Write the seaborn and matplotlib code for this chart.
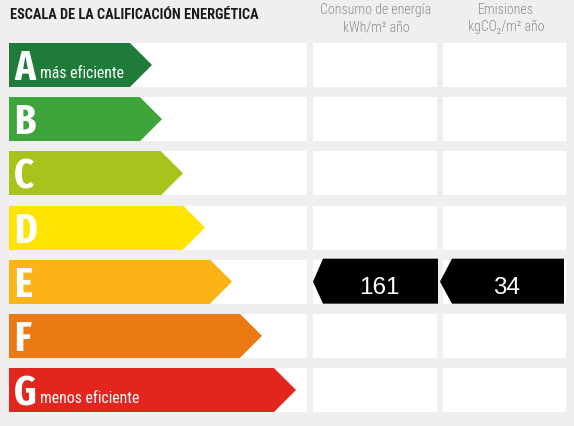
import numpy as np
import matplotlib
matplotlib.use('Agg')
import matplotlib.pyplot as plt
import seaborn as sns
from matplotlib.patches import Rectangle, Polygon

# Energy rating scale
letters = ['A', 'B', 'C', 'D', 'E', 'F', 'G']
subtitles = ['más eficiente', '', '', '', '', '', 'menos eficiente']
colors = ['#1f7b39', '#3ea53a', '#a8c41c', '#ffe400', '#fbb316', '#ec7a12', '#e2261d']
arrow_tip = [152, 162, 183, 205, 232, 262, 296]   # where each arrow ends (px)

# Result for this building
rating = 'E'
consumo = 161     # kWh/m2 year
emisiones = 34    # kgCO2/m2 year

title = 'ESCALA DE LA CALIFICACIÓN ENERGÉTICA'
col_headers = [('Consumo de energía', 'kWh/m² año'), ('Emisiones', 'kgCO₂/m² año')]

sns.set_theme(style='white')
cond = ['Roboto Condensed', 'DejaVu Sans']
plt.rcParams['font.family'] = cond
big_font = ['Fira Sans Extra Condensed', 'Roboto Condensed', 'DejaVu Sans']

W, H = 574, 426
fig = plt.figure(figsize=(W / 100, H / 100), dpi=100)
fig.patch.set_facecolor('#f0eeef')
ax = fig.add_axes([0, 0, 1, 1])
ax.set_facecolor('#f0eeef')

left = 9
top0 = 43
pitch = 54.17
row_h = 44
tip_len = 22
centers = [top0 + row_h / 2 + i * pitch for i in range(len(letters))]

# white rows / cells
cells = [(left, 307), (313, 437), (443, 566)]
for c in centers:
    for x0, x1 in cells:
        ax.add_patch(Rectangle((x0, c - row_h / 2), x1 - x0, row_h, fc='white', ec='none', zorder=0))

# arrow bodies with seaborn
body = [t - tip_len - left for t in arrow_tip]
sns.barplot(x=body, y=centers, hue=letters, palette=colors, orient='y', native_scale=True,
            width=row_h / pitch, dodge=False, saturation=1, errorbar=None, legend=False,
            linewidth=0, ax=ax, zorder=1)
for p in ax.patches:
    if isinstance(p, Rectangle) and p.get_zorder() == 1:
        p.set_x(left)

# arrow tips
for c, t, col in zip(centers, arrow_tip, colors):
    b = t - tip_len - 1
    ax.add_patch(Polygon([(b, c - row_h / 2), (t - tip_len, c - row_h / 2), (t, c),
                          (t - tip_len, c + row_h / 2), (b, c + row_h / 2)],
                         closed=True, fc=col, ec='none', zorder=1))

# letters and labels
for c, L, sub in zip(centers, letters, subtitles):
    ax.text(14, c + 15, L, color='white', fontsize=30, fontweight='bold', family=big_font,
            ha='left', va='baseline', zorder=3)
    if sub:
        ax.text(40, c + 13, sub, color='white', fontsize=11.3, va='baseline', ha='left', zorder=3)

# value arrows for the rating
ri = letters.index(rating)
c = centers[ri]
for (x0, x1), val in zip([(313, 438), (440, 564)], [consumo, emisiones]):
    n = 10 if x0 == 313 else 12
    ax.add_patch(Polygon([(x0 + n, c - row_h / 2 - 1), (x1, c - row_h / 2 - 1), (x1, c + row_h / 2),
                          (x0 + n, c + row_h / 2), (x0, c)], closed=True, fc='black', ec='none', zorder=2))
    ax.text((x0 + n + x1) / 2 - 1, c + 6, str(val), color='white', fontsize=17.5,
            family=['Liberation Sans', 'DejaVu Sans'], ha='center', va='center', zorder=3)

# headers
ax.text(10, 15, title, fontsize=10.3, fontweight='bold', color='#1a1a1a', ha='left', va='center')
for xc, (l1, l2) in zip([376, 506], col_headers):
    ax.text(xc, 10, l1, fontsize=10, fontweight='light', color='#8c8c8c', ha='center', va='center')
    ax.text(xc, 27, l2, fontsize=10, fontweight='light', color='#8c8c8c', ha='center', va='center')

ax.set_xlim(0, W)
ax.set_ylim(H, 0)
ax.axis('off')
fig.savefig('out.png', dpi=100, facecolor=fig.get_facecolor())
